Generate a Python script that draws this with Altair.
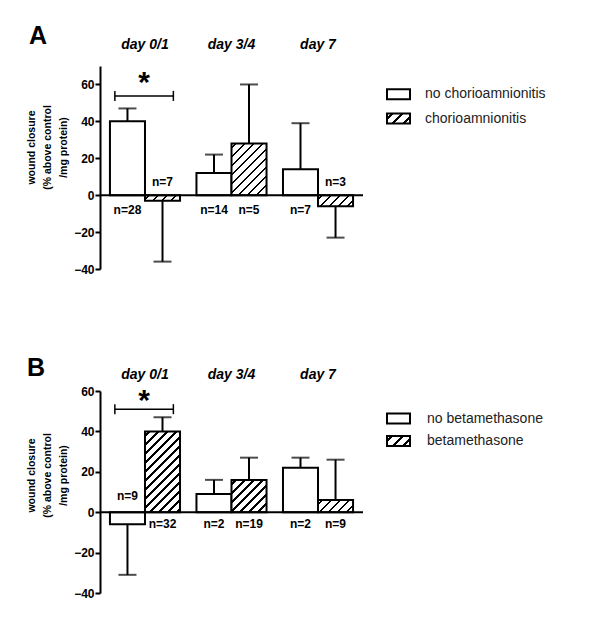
import altair as alt
import pandas as pd

FONT = "Liberation Sans"

# ---------------- data ----------------
days = ["day 0/1", "day 3/4", "day 7"]
y_ticks = [-40, -20, 0, 20, 40, 60]
y_title = ["wound closure", "(% above control", "/mg protein)"]

a_groups = ["no chorioamnionitis", "chorioamnionitis"]
a_mean_no = [40, 12, 14]
a_err_no = [47, 22, 39]
a_mean_yes = [-3, 28, -6]
a_err_yes = [-36, 60, -23]
a_n_no = ["n=28", "n=14", "n=7"]
a_n_yes = ["n=7", "n=5", "n=3"]

b_groups = ["no betamethasone", "betamethasone"]
b_mean_no = [-6, 9, 22]
b_err_no = [-31, 16, 27]
b_mean_yes = [40, 16, 6]
b_err_yes = [47, 27, 26]
b_n_no = ["n=9", "n=2", "n=2"]
b_n_yes = ["n=32", "n=19", "n=9"]

# ---------------- layout constants ----------------
W = 263
PI, PO = 0.19, 0.115          # gap between day groups / outer margin, in group steps
XMAX = len(days) - PI + 2 * PO
PX = W / XMAX                 # px per group step
HALF = (1 - PI) / 2           # one bar width in group steps
BARW = HALF * PX


def hatch(w, h, period=9.0, thick=2.4):
    """Linear gradient with hard stops that draws '/' stripes on a w x h px box."""
    h = max(h, 0.5)
    L = w + h
    k = L / (w * w + h * h)
    stops = [{"offset": 0, "color": "white"}]
    c = period / 2
    while c - thick / 2 < L:
        a = max(0.0, (c - thick / 2) / L)
        b = min(1.0, (c + thick / 2) / L)
        stops += [
            {"offset": a, "color": "white"},
            {"offset": a, "color": "black"},
            {"offset": b, "color": "black"},
            {"offset": b, "color": "white"},
        ]
        c += period
    stops.append({"offset": 1, "color": "white"})
    return {"gradient": "linear", "x1": 0, "y1": 0, "x2": k * w, "y2": k * h, "stops": stops}


def panel(letter, groups, mean_no, err_no, mean_yes, err_yes, n_no, n_yes,
          dmax, H, day_y, star_y, brk_y, dy_above, dy_below, letter_xy, legend_rows, legend_tx,
          title_y):
    rows = []
    for j, (means, errs, ns) in enumerate([(mean_no, err_no, n_no), (mean_yes, err_yes, n_yes)]):
        for i, d in enumerate(days):
            x0 = PO + i + j * HALF
            rows.append({"day": d, "grp": groups[j], "mean": means[i], "err": errs[i], "n": ns[i],
                         "x0": x0, "x1": x0 + HALF, "xc": x0 + HALF / 2})
    df = pd.DataFrame(rows)
    ppu = H / (dmax + 40)
    yscale = alt.Scale(domain=[-40, dmax], nice=False, zero=False)
    xscale = alt.Scale(domain=[0, XMAX], nice=False, zero=False)
    yaxis = alt.Axis(
        values=y_ticks, title=y_title, titleFont=FONT, titleFontSize=10.5, titleFontWeight="bold",
        titleLineHeight=16, titlePadding=5, titleColor="black", titleY=title_y,
        labelFont=FONT, labelFontSize=12, labelFontWeight="bold", labelColor="black", labelPadding=1,
        domainColor="black", domainWidth=2, tickColor="black", tickWidth=2, tickSize=5, grid=False,
    )

    def X(f):
        return alt.X(f, scale=xscale, axis=None)

    def Y(f):
        return alt.Y(f, scale=yscale, axis=yaxis)

    def YD(v):
        return alt.YDatum(v, scale=yscale, axis=yaxis)

    base = alt.Chart(df)
    layers = []
    layers.append(
        base.transform_filter(alt.datum.grp == groups[0])
        .mark_bar(fill="white", stroke="black", strokeWidth=2)
        .encode(x=X("x0:Q"), x2="x1:Q", y=Y("mean:Q"), y2=alt.Y2Datum(0))
    )
    for d, m in zip(days, mean_yes):
        layers.append(
            base.transform_filter((alt.datum.grp == groups[1]) & (alt.datum.day == d))
            .mark_bar(fill=hatch(BARW, abs(m) * ppu), stroke="black", strokeWidth=2)
            .encode(x=X("x0:Q"), x2="x1:Q", y=Y("mean:Q"), y2=alt.Y2Datum(0))
        )
    # error bars
    layers.append(
        base.mark_rule(color="black", strokeWidth=2)
        .encode(x=X("xc:Q"), y=Y("mean:Q"), y2="err:Q")
    )
    layers.append(
        base.mark_tick(color="black", thickness=2, size=18, orient="horizontal")
        .encode(x=X("xc:Q"), y=Y("err:Q"))
    )
    # zero line
    one = pd.DataFrame({"s": ["*"]})
    layers.append(
        alt.Chart(one).mark_rule(color="black", strokeWidth=2)
        .encode(y=YD(0), x=alt.value(0), x2=alt.value(W))
    )
    # n labels
    ntext = dict(font=FONT, fontSize=12, fontWeight="bold", color="black", baseline="alphabetic")
    layers.append(
        base.transform_filter(alt.datum.mean >= 0)
        .mark_text(dy=dy_below, **ntext)
        .encode(x=X("xc:Q"), y=YD(0), text="n:N")
    )
    layers.append(
        base.transform_filter(alt.datum.mean < 0)
        .mark_text(dy=dy_above, **ntext)
        .encode(x=X("xc:Q"), y=YD(0), text="n:N")
    )
    # day labels
    ddf = pd.DataFrame({"day": days, "xd": [PO + i + HALF for i in range(len(days))]})
    layers.append(
        alt.Chart(ddf)
        .mark_text(font=FONT, fontSize=14, fontWeight="bold", fontStyle="italic", color="black",
                   baseline="alphabetic")
        .encode(x=X("xd:Q"), y=YD(day_y), text="day:N")
    )
    # significance bracket over day 0/1
    bx1 = (PO + 0.07 * 2 * HALF) * PX
    bx2 = (PO + 0.905 * 2 * HALF) * PX
    layers.append(
        alt.Chart(one).mark_rule(color="black", strokeWidth=1.5)
        .encode(x=alt.value(bx1), x2=alt.value(bx2), y=YD(brk_y))
    )
    for bx in (bx1, bx2):
        layers.append(
            alt.Chart(one).mark_rule(color="black", strokeWidth=1.5)
            .encode(x=alt.value(bx), y=YD(brk_y - 5 / ppu), y2=alt.Y2Datum(brk_y + 5 / ppu))
        )
    layers.append(
        alt.Chart(one).mark_text(font=FONT, fontSize=30, fontWeight="bold", color="black",
                                 baseline="alphabetic")
        .encode(x=alt.value((bx1 + bx2) / 2), y=YD(star_y), text="s:N")
    )
    # panel letter
    layers.append(
        alt.Chart(pd.DataFrame({"t": [letter]}))
        .mark_text(font=FONT, fontSize=25, fontWeight="bold", color="black", baseline="alphabetic")
        .encode(x=alt.value(letter_xy[0]), y=alt.value(letter_xy[1]), text="t:N")
    )
    # legend
    sw_x1, sw_x2 = 287, 310
    r0, r1 = legend_rows
    layers.append(
        alt.Chart(one).mark_rect(fill="white", stroke="black", strokeWidth=2)
        .encode(x=alt.value(sw_x1), x2=alt.value(sw_x2), y=alt.value(r0 - 5), y2=alt.value(r0 + 5))
    )
    layers.append(
        alt.Chart(one).mark_rect(fill=hatch(sw_x2 - sw_x1, 10, period=10.5, thick=2.6),
                                 stroke="black", strokeWidth=2)
        .encode(x=alt.value(sw_x1), x2=alt.value(sw_x2), y=alt.value(r1 - 5), y2=alt.value(r1 + 5))
    )
    for g, r in zip(groups, (r0, r1)):
        layers.append(
            alt.Chart(pd.DataFrame({"g": [g]}))
            .mark_text(font=FONT, fontSize=14, color="#222", align="left", baseline="middle")
            .encode(x=alt.value(legend_tx), y=alt.value(r), text="g:N")
        )

    return alt.layer(*layers).properties(width=W, height=H)


panel_a = panel("A", a_groups, a_mean_no, a_err_no, a_mean_yes, a_err_yes, a_n_no, a_n_yes,
                dmax=70, H=203, day_y=79, star_y=55.9, brk_y=53.8, dy_above=-9, dy_below=19,
                letter_xy=(-62, -22), legend_rows=(28.3, 52.5), legend_tx=325, title_y=81)
panel_b = panel("B", b_groups, b_mean_no, b_err_no, b_mean_yes, b_err_yes, b_n_no, b_n_yes,
                dmax=60, H=202, day_y=66, star_y=50.4, brk_y=51, dy_above=-12, dy_below=16,
                letter_xy=(-64, -15), legend_rows=(27.5, 50), legend_tx=327, title_y=84)

chart = (
    alt.vconcat(panel_a, panel_b, spacing=81)
    .properties(padding={"left": 18, "top": 16, "right": 5, "bottom": 5})
    .configure_view(stroke=None)
)

chart.save("out.html", embed_options={"renderer": "svg", "actions": False})
